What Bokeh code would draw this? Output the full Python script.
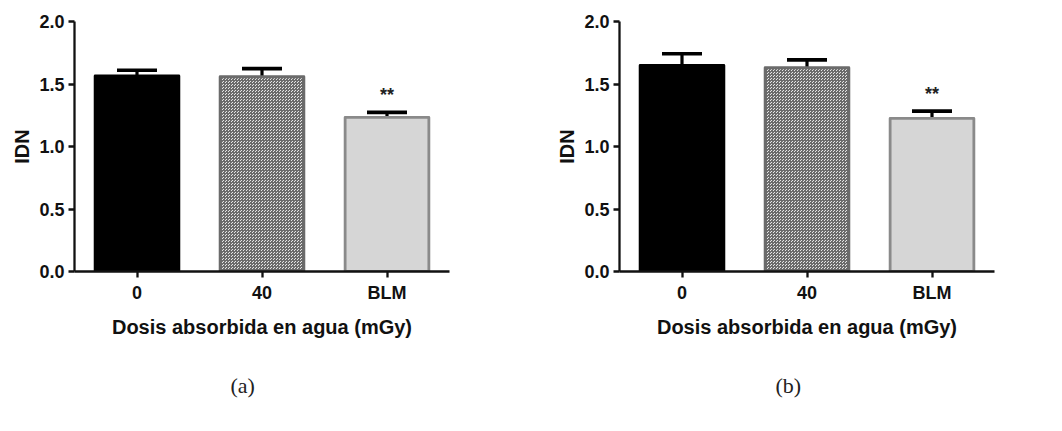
from bokeh.plotting import figure
from bokeh.layouts import row
from bokeh.models import Range1d, FixedTicker, ColumnDataSource, Title, PrintfTickFormatter
from bokeh.embed import file_html
from bokeh.resources import INLINE
from bokeh.core.properties import value

# ---- data ----
categories = ["0", "40", "BLM"]
idn_a = [1.565, 1.558, 1.233]
err_a = [0.045, 0.065, 0.040]
idn_b = [1.648, 1.630, 1.225]
err_b = [0.094, 0.063, 0.058]
signif = ["", "", "**"]
y_ticks = [0.0, 0.5, 1.0, 1.5, 2.0]
x_title = "Dosis absorbida en agua (mGy)"
y_title = "IDN"
captions = ["(a)", "(b)"]

# ---- styles ----
FONT = "Liberation Sans"
fill_colors = ["#000000", "#e6e6e6", "#d6d6d6"]
line_colors = ["#000000", "#6b6b6b", "#8a8a8a"]
hatches = [" ", "criss_cross", " "]


def make_panel(vals, errs, caption, width, bl, br):
    xs = list(range(len(categories)))
    tops = [v + e for v, e in zip(vals, errs)]
    src = ColumnDataSource(dict(
        x=xs, top=vals, err_top=tops,
        cap_l=[x - 0.16 for x in xs], cap_r=[x + 0.16 for x in xs],
        fill=fill_colors, line=line_colors, hatch=hatches,
        sig=signif, sig_y=[t + 0.14 for t in tops],
    ))
    p = figure(width=width, height=431, output_backend="svg", toolbar_location=None,
               x_range=Range1d(-0.5, 2.5), y_range=Range1d(0, 2.0),
               min_border_left=bl, min_border_right=br, min_border_top=21,
               min_border_bottom=160)
    p.outline_line_color = None
    p.xgrid.visible = False
    p.ygrid.visible = False

    # error bars (upper only)
    p.segment(x0="x", y0="top", x1="x", y1="err_top", source=src,
              line_color="black", line_width=3.2)
    p.segment(x0="cap_l", y0="err_top", x1="cap_r", y1="err_top", source=src,
              line_color="black", line_width=3.7)
    # bars
    p.vbar(x="x", top="top", bottom=0, width=0.67, source=src,
           fill_color="fill", line_color="line", line_width=2.8, line_join="round",
           hatch_pattern="hatch", hatch_color="#6a6a6a", hatch_scale=3, hatch_weight=1)
    # significance
    p.text(x="x", y="sig_y", text="sig", source=src, text_align="center",
           text_baseline="middle", text_font=value(FONT), text_font_style="bold",
           text_font_size="18px", text_color="#222222")

    for ax in (p.xaxis[0], p.yaxis[0]):
        ax.axis_line_width = 2.3
        ax.axis_line_color = "#111111"
        ax.major_tick_line_width = 2.3
        ax.major_tick_line_color = "#111111"
        ax.major_tick_in = 0
        ax.major_tick_out = 6
        ax.minor_tick_line_color = None
        ax.major_label_text_font = FONT
        ax.major_label_text_font_style = "bold"
        ax.major_label_text_font_size = "18px"
        ax.major_label_text_color = "#111111"
        ax.axis_label_text_font = FONT
        ax.axis_label_text_font_style = "bold"
        ax.axis_label_text_font_size = "20px"
        ax.axis_label_text_color = "#111111"

    p.xaxis.ticker = FixedTicker(ticks=xs)
    p.xaxis.major_label_overrides = {i: c for i, c in enumerate(categories)}
    p.xaxis.major_label_standoff = 5
    p.xaxis.axis_label = x_title
    p.xaxis.axis_label_standoff = 10

    p.yaxis.ticker = FixedTicker(ticks=y_ticks)
    p.yaxis.formatter = PrintfTickFormatter(format="%.1f")
    p.yaxis.major_label_standoff = 4
    p.yaxis.axis_label = y_title
    p.yaxis.axis_label_standoff = 3

    p.add_layout(Title(text=caption, align="left", offset=156, standoff=60,
                       text_font="Liberation Serif", text_font_style="normal",
                       text_font_size="22px", text_color="#222222"), "below")
    return p


pa = make_panel(idn_a, err_a, captions[0], 545, 74, 96)
pb = make_panel(idn_b, err_b, captions[1], 517, 74, 68)

layout = row(pa, pb)
open("out.html", "w").write(file_html(layout, INLINE))
